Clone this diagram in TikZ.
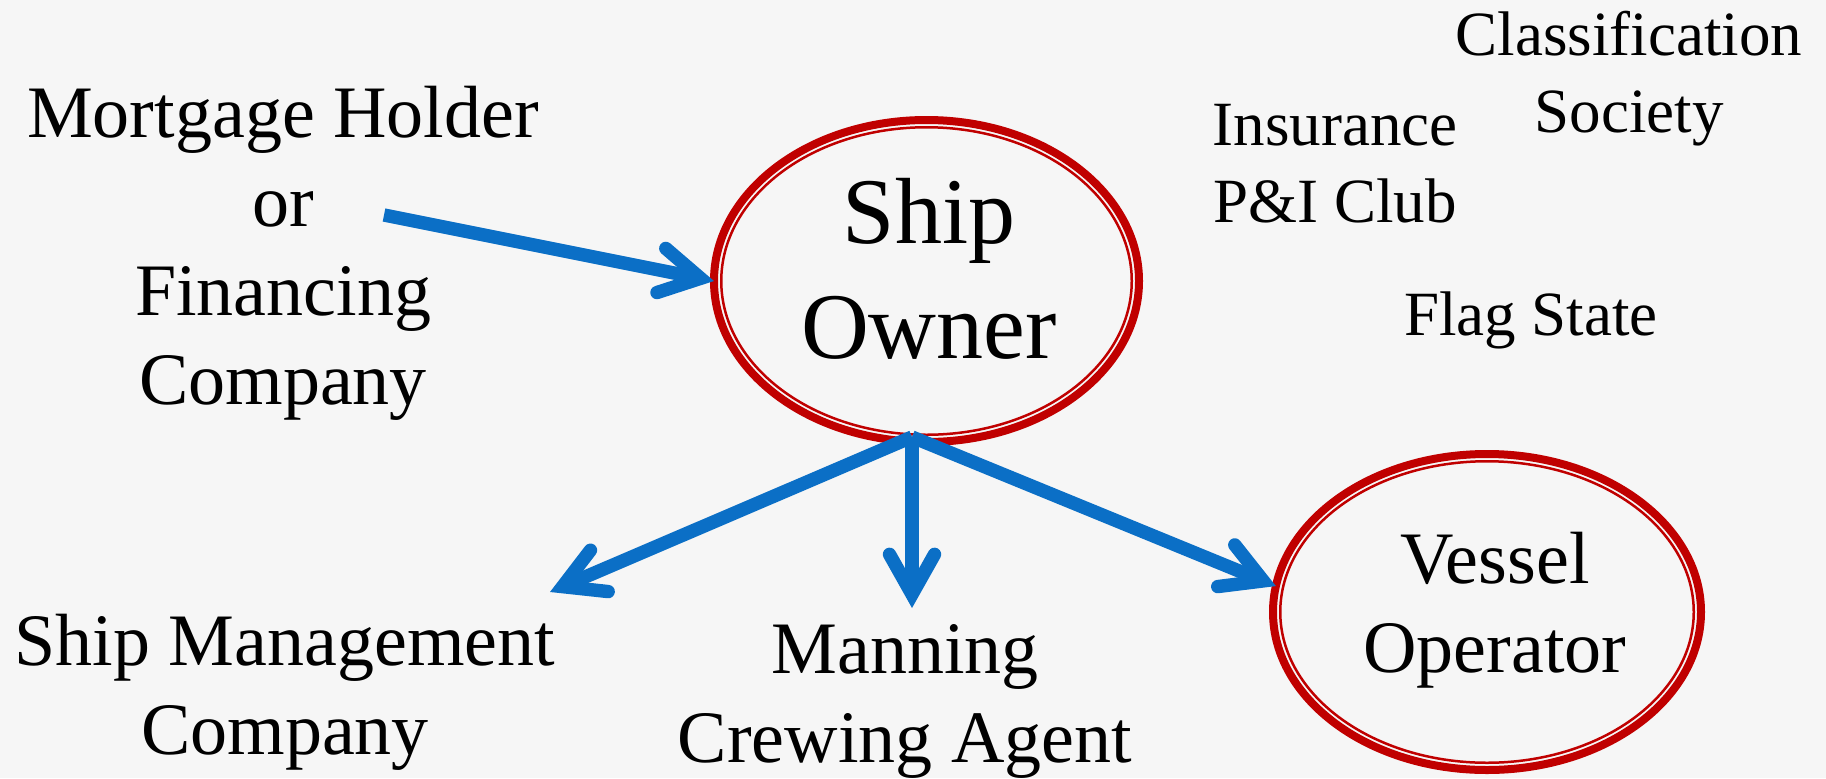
\documentclass[tikz,border=0pt]{standalone}
\usepackage{fontspec}
\setmainfont{Liberation Serif}
\usetikzlibrary{arrows.meta,shapes.geometric}
\definecolor{ppred}{HTML}{C00000}
\definecolor{ppblue}{HTML}{0B6FC6}
\definecolor{bgcol}{HTML}{F6F6F6}
\begin{document}
\begin{tikzpicture}[x=0.5pt,y=-0.5pt,
  lbl/.style={inner sep=0pt, outer sep=0pt, align=center, anchor=base, font=\fontsize{37}{44.5}\selectfont},
  smalllbl/.style={inner sep=0pt, outer sep=0pt, align=center, anchor=base, font=\fontsize{31.5}{38.5}\selectfont},
  biglbl/.style={inner sep=0pt, outer sep=0pt, align=center, anchor=base, font=\fontsize{47}{57.5}\selectfont},
  ring/.style={ellipse, draw=ppred, line width=4pt, inner sep=0pt, outer sep=0pt},
  innerring/.style={draw=ppred, line width=1.25pt},
  conn/.style={draw=ppblue, line width=6.7pt, line cap=butt,
    -{Straight Barb[length=20pt, width=22.5pt, line cap=round, line join=miter]}}
]
\fill[bgcol] (0,0) rectangle (1826,778);
\useasboundingbox (0,0) rectangle (1826,778);

% ellipses
\node[ring, minimum width=212.5pt, minimum height=161pt] (owner) at (926.5,281) {};
\draw[innerring] (owner.center) ellipse [x radius=102.625pt, y radius=76.875pt];
\node[ring, minimum width=214pt, minimum height=158pt] (vessel) at (1487,612) {};
\draw[innerring] (vessel.center) ellipse [x radius=103.375pt, y radius=75.375pt];

% texts (anchor = baseline of the last line)
\node[biglbl] (ownerlbl) at (929,358) {Ship\\Owner};
\node[lbl] (vessellbl) at (1495,672) {Vessel\\Operator};
\node[lbl] (mort) at (283,404) {Mortgage Holder\\or\\Financing\\Company};
\node[lbl] (smc) at (285,754) {Ship Management\\Company};
\node[lbl] (man) at (905,762) {Manning\\Crewing Agent};
\node[smalllbl] (class) at (1629,132) {Classification\\Society};
\node[smalllbl] (ins) at (1335,222) {Insurance\\P\&I Club};
\node[smalllbl] (flag) at (1531,335) {Flag State};

% connector end points
\coordinate (mstart) at (384,215);
\coordinate (hub) at (912,437);
\coordinate (smtip) at (550,592);
\coordinate (mantip) at (912,608);

\draw[conn] (mstart) -- (owner.west);
\draw[conn] (hub) -- (smtip);
\draw[conn] (hub) -- (mantip);
\draw[conn] (hub) -- (vessel.173.6);
\end{tikzpicture}
\end{document}
